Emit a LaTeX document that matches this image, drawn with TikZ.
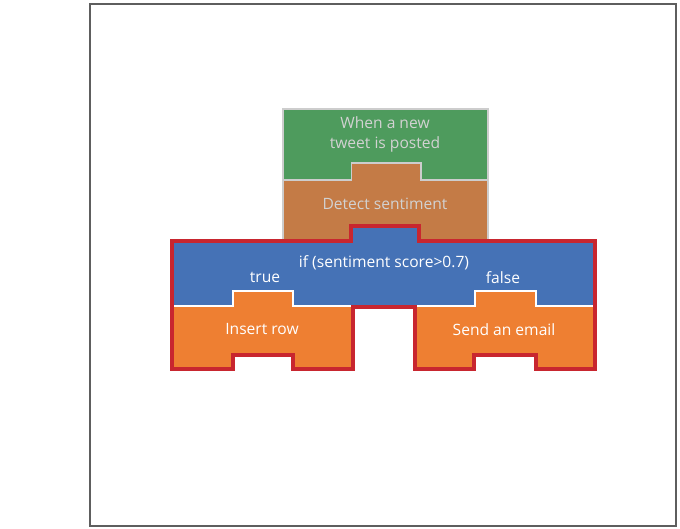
\documentclass[tikz,border=0pt]{standalone}
\usepackage{fontspec}
\setmainfont{Open Sans}
\definecolor{trigGreen}{HTML}{4E9B5D}
\definecolor{actBrown}{HTML}{C47B46}
\definecolor{condBlue}{HTML}{4572B6}
\definecolor{actOrange}{HTML}{EE7F32}
\definecolor{selRed}{HTML}{C8262F}
\definecolor{edgeGray}{HTML}{CDCDCD}
\definecolor{frameGray}{HTML}{5E5E5E}
\definecolor{dimText}{HTML}{D2D2D2}
\tikzset{
  blockedge/.style={draw=edgeGray, line width=1.2pt},
  lbl/.style={font=\fontsize{15.6}{20}\selectfont, align=center, inner sep=0pt},
  dimlbl/.style={lbl, text=dimText},
  brightlbl/.style={lbl, text=white},
}
\begin{document}
\begin{tikzpicture}[x=1pt, y=-1pt, line join=miter]
\useasboundingbox (0,0) rectangle (680,529);
% outer frame
\draw[frameGray, line width=2pt] (90,4) rectangle (676,526);

% trigger block
\fill[trigGreen] (283,109) rectangle (488,180);
\draw[blockedge] (283,180) -- (283,109) -- (488,109) -- (488,180);

% detect sentiment block, its tab reaching into the trigger
\filldraw[fill=actBrown, blockedge]
  (283,180) -- (351.5,180) -- (351.5,163) -- (421,163) -- (421,180)
  -- (488,180) -- (488,241) -- (283,241) -- cycle;

% condition block
\fill[condBlue]
  (172,241) -- (350.5,241) -- (350.5,226) -- (418.5,226) -- (418.5,241)
  -- (595,241) -- (595,306) -- (172,306) -- cycle;

% branch actions
\fill[actOrange]
  (172,306) -- (233,306) -- (233,291) -- (293,291) -- (293,306) -- (352.5,306)
  -- (352.5,369) -- (293,369) -- (293,355) -- (232.5,355) -- (232.5,369)
  -- (172,369) -- cycle;
\fill[actOrange]
  (414.5,306) -- (475,306) -- (475,291) -- (536,291) -- (536,306) -- (595,306)
  -- (595,369) -- (535.5,369) -- (535.5,355) -- (474,355) -- (474,369)
  -- (414.5,369) -- cycle;
% white seams on top of the action blocks
\draw[white, line width=1.4pt]
  (172,306) -- (233,306) -- (233,291) -- (293,291) -- (293,306) -- (352.5,306);
\draw[white, line width=1.4pt]
  (414.5,306) -- (475,306) -- (475,291) -- (536,291) -- (536,306) -- (595,306);

% selection outline around the condition and its branches
\draw[selRed, line width=4pt]
  (172,241) -- (350.5,241) -- (350.5,226) -- (418.5,226) -- (418.5,241)
  -- (595,241) -- (595,369) -- (535.5,369) -- (535.5,355) -- (474,355)
  -- (474,369) -- (414.5,369) -- (414.5,307) -- (352.5,307) -- (352.5,369)
  -- (293,369) -- (293,355) -- (232.5,355) -- (232.5,369) -- (172,369) -- cycle;

% labels
\node[dimlbl] (trigger) at (385,134.5) {When a new\\tweet is posted};
\node[dimlbl] (detect) at (385,203.5) {Detect sentiment};
\node[brightlbl] (cond) at (384,262.5) {if (sentiment score>0.7)};
\node[brightlbl] (truelbl) at (265,277.5) {true};
\node[brightlbl] (falselbl) at (503,277.5) {false};
\node[brightlbl] (insert) at (262,329.5) {Insert row};
\node[brightlbl] (email) at (504,329.5) {Send an email};
\end{tikzpicture}
\end{document}
